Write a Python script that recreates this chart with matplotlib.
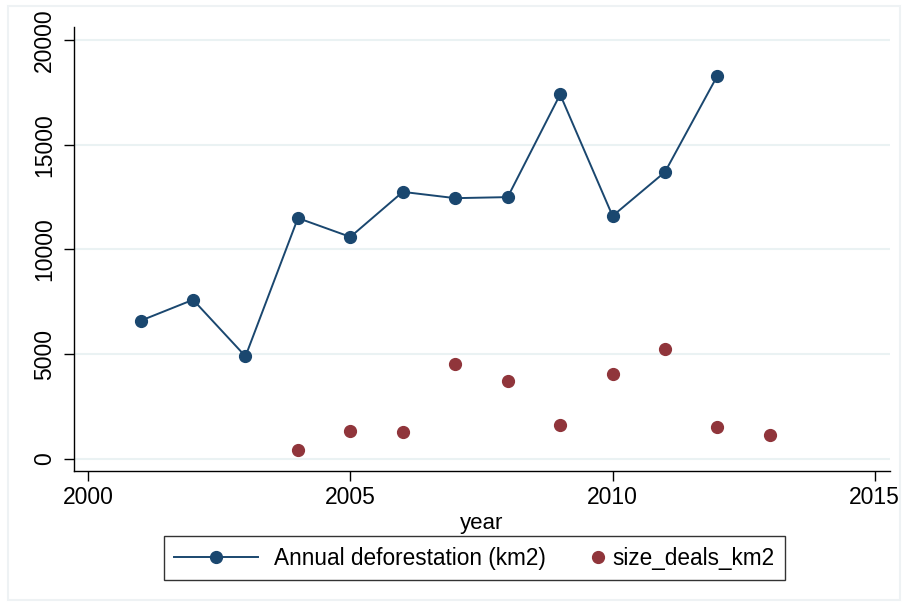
import matplotlib.pyplot as plt
from matplotlib.patches import Rectangle
from matplotlib.legend_handler import HandlerLine2D, HandlerLine2DCompound

years = [2001, 2002, 2003, 2004, 2005, 2006, 2007, 2008, 2009, 2010, 2011, 2012]
deforestation = [6600, 7600, 4900, 11500, 10600, 12750, 12450, 12500, 17400, 11600, 13700, 18300]

deal_years = [2004, 2005, 2006, 2007, 2008, 2009, 2010, 2011, 2012, 2013]
size_deals = [450, 1350, 1300, 4550, 3700, 1600, 4050, 5250, 1550, 1150]

xticks = [2000, 2005, 2010, 2015]
yticks = [0, 5000, 10000, 15000, 20000]

navy = '#1a476f'
maroon = '#90353b'


class MarkerAtEnd(HandlerLine2DCompound):
    # put the single marker at the right end of the handle box
    def get_xdata(self, legend, xdescent, ydescent, width, height, fontsize):
        xdata, _ = super().get_xdata(legend, xdescent, ydescent, width, height, fontsize)
        return xdata, [width - xdescent + 1.5]


plt.rcParams['font.family'] = ['Liberation Sans', 'DejaVu Sans']

fig = plt.figure(figsize=(9.04, 6.03), dpi=100)
fig.patches.append(Rectangle((8 / 904, 3 / 603), 892 / 904, 594 / 603,
                             transform=fig.transFigure, fill=False,
                             edgecolor='#eef2f4', linewidth=1.5))

ax = fig.add_axes([74 / 904, 132 / 603, 816 / 904, 444 / 603])

line, = ax.plot(years, deforestation, color=navy, linewidth=1.4, marker='o',
                markersize=8.5, label='Annual deforestation (km2)', zorder=3)
dots, = ax.plot(deal_years, size_deals, linestyle='none', color=maroon, marker='o',
                markersize=8.5, label='size_deals_km2', zorder=3)

ax.set_xlim(1999.73, 2015.29)
ax.set_ylim(-573, 20620)
ax.set_xticks(xticks)
ax.set_yticks(yticks)
ax.tick_params(axis='both', length=7, width=1, labelsize=16.5, color='black')
ax.tick_params(axis='x', pad=4)
ax.tick_params(axis='y', labelrotation=90, pad=6)
for lab in ax.get_yticklabels():
    lab.set_va('center')

ax.grid(axis='y', color='#eaf2f3', linewidth=1.5)
ax.set_axisbelow(True)
for side in ['top', 'right']:
    ax.spines[side].set_visible(False)
for side in ['left', 'bottom']:
    ax.spines[side].set_linewidth(1)

ax.set_xlabel('year', fontsize=16, labelpad=3)

leg = fig.legend([line, dots], ['Annual deforestation (km2)', 'size_deals_km2'],
                 handler_map={line: HandlerLine2D(numpoints=1),
                              dots: MarkerAtEnd(numpoints=1)},
                 loc='center left', bbox_to_anchor=(164 / 904, 1 - 558 / 603), ncol=2,
                 fontsize=16.3, frameon=True, fancybox=False, edgecolor='black',
                 handlelength=3.7, handletextpad=0.72, columnspacing=-1.5,
                 borderpad=0.45, borderaxespad=0)
leg.get_frame().set_linewidth(1)

fig.savefig('out.png', dpi=100)
